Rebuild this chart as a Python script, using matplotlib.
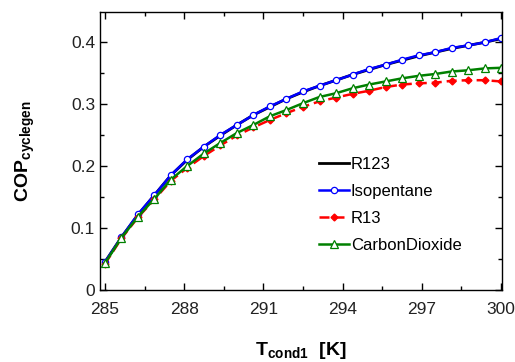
import matplotlib
matplotlib.use('Agg')
import matplotlib.pyplot as plt
import numpy as np
from matplotlib.ticker import MultipleLocator

plt.rcParams['font.family'] = 'Liberation Sans'
plt.rcParams['mathtext.fontset'] = 'custom'
plt.rcParams['mathtext.rm'] = 'Liberation Sans'
plt.rcParams['mathtext.bf'] = 'Liberation Sans:bold'

# condenser temperature [K]
t_cond = [285.0, 285.625, 286.25, 286.875, 287.5, 288.125, 288.75, 289.375,
          290.0, 290.625, 291.25, 291.875, 292.5, 293.125, 293.75, 294.375,
          295.0, 295.625, 296.25, 296.875, 297.5, 298.125, 298.75, 299.375, 300.0]

cop_r123 = [0.045, 0.085, 0.121, 0.153, 0.185, 0.210, 0.231, 0.249,
            0.266, 0.282, 0.295, 0.308, 0.319, 0.329, 0.338, 0.347,
            0.355, 0.363, 0.370, 0.377, 0.383, 0.389, 0.394, 0.399, 0.405]
cop_isopentane = [0.045, 0.085, 0.122, 0.153, 0.185, 0.211, 0.231, 0.250,
                  0.266, 0.282, 0.296, 0.308, 0.320, 0.329, 0.338, 0.347,
                  0.356, 0.363, 0.371, 0.378, 0.383, 0.390, 0.394, 0.399, 0.406]
cop_r13 = [0.042, 0.083, 0.117, 0.146, 0.176, 0.197, 0.216, 0.233,
           0.249, 0.262, 0.274, 0.285, 0.295, 0.304, 0.310, 0.316,
           0.321, 0.327, 0.331, 0.333, 0.334, 0.337, 0.338, 0.338, 0.336]
cop_co2 = [0.043, 0.084, 0.118, 0.147, 0.178, 0.200, 0.220, 0.237,
           0.253, 0.266, 0.280, 0.290, 0.301, 0.311, 0.317, 0.325,
           0.331, 0.336, 0.341, 0.345, 0.348, 0.352, 0.354, 0.357, 0.358]

fig = plt.figure(figsize=(5.15, 3.62), dpi=100)
ax = fig.add_axes([0.194, 0.199, 0.781, 0.768])

ax.plot(t_cond, cop_r123, color='black', lw=2, label='R123')
ax.plot(t_cond, cop_isopentane, color='#0000ff', lw=1.8, marker='o', ms=4.5,
        mfc='white', mec='#0000ff', mew=0.9, label='Isopentane')
ax.plot(t_cond, cop_r13, color='#ff0000', lw=1.8, ls=(0, (4, 2)), marker='D', ms=3.5,
        mfc='#ff0000', mec='#ff0000', label='R13')
ax.plot(t_cond, cop_co2, color='#008000', lw=1.8, marker='^', ms=5.5,
        mfc='white', mec='#008000', mew=0.9, label='CarbonDioxide')

ax.set_xlim(284.81, 300.04)
ax.set_ylim(0, 0.448)
ax.xaxis.set_major_locator(MultipleLocator(3))
ax.xaxis.set_minor_locator(MultipleLocator(1.5))
ax.yaxis.set_major_locator(MultipleLocator(0.1))
ax.yaxis.set_minor_locator(MultipleLocator(0.05))
ax.set_yticks([0, 0.1, 0.2, 0.3, 0.4])
ax.set_yticklabels(['0', '0.1', '0.2', '0.3', '0.4'])
ax.tick_params(which='both', direction='in', top=True, right=True,
               labelsize=12.5, labelcolor='#222222', width=1)
ax.tick_params(which='major', length=5)
ax.tick_params(which='minor', length=3)
ax.tick_params(axis='x', pad=9)
for s in ax.spines.values():
    s.set_linewidth(1)

ax.set_ylabel(r'$\mathbf{COP_{cyclegen}}$', fontsize=14, labelpad=24)
ax.set_xlabel(r'$\mathbf{T_{cond1}}$  $\mathbf{[K]}$', fontsize=14, labelpad=16)

ax.legend(loc='upper left', bbox_to_anchor=(0.545, 0.48), frameon=False,
          fontsize=12, handlelength=1.8, handletextpad=0.1, labelspacing=0.72,
          borderaxespad=0, borderpad=0)

fig.savefig('out.png', dpi=100)
